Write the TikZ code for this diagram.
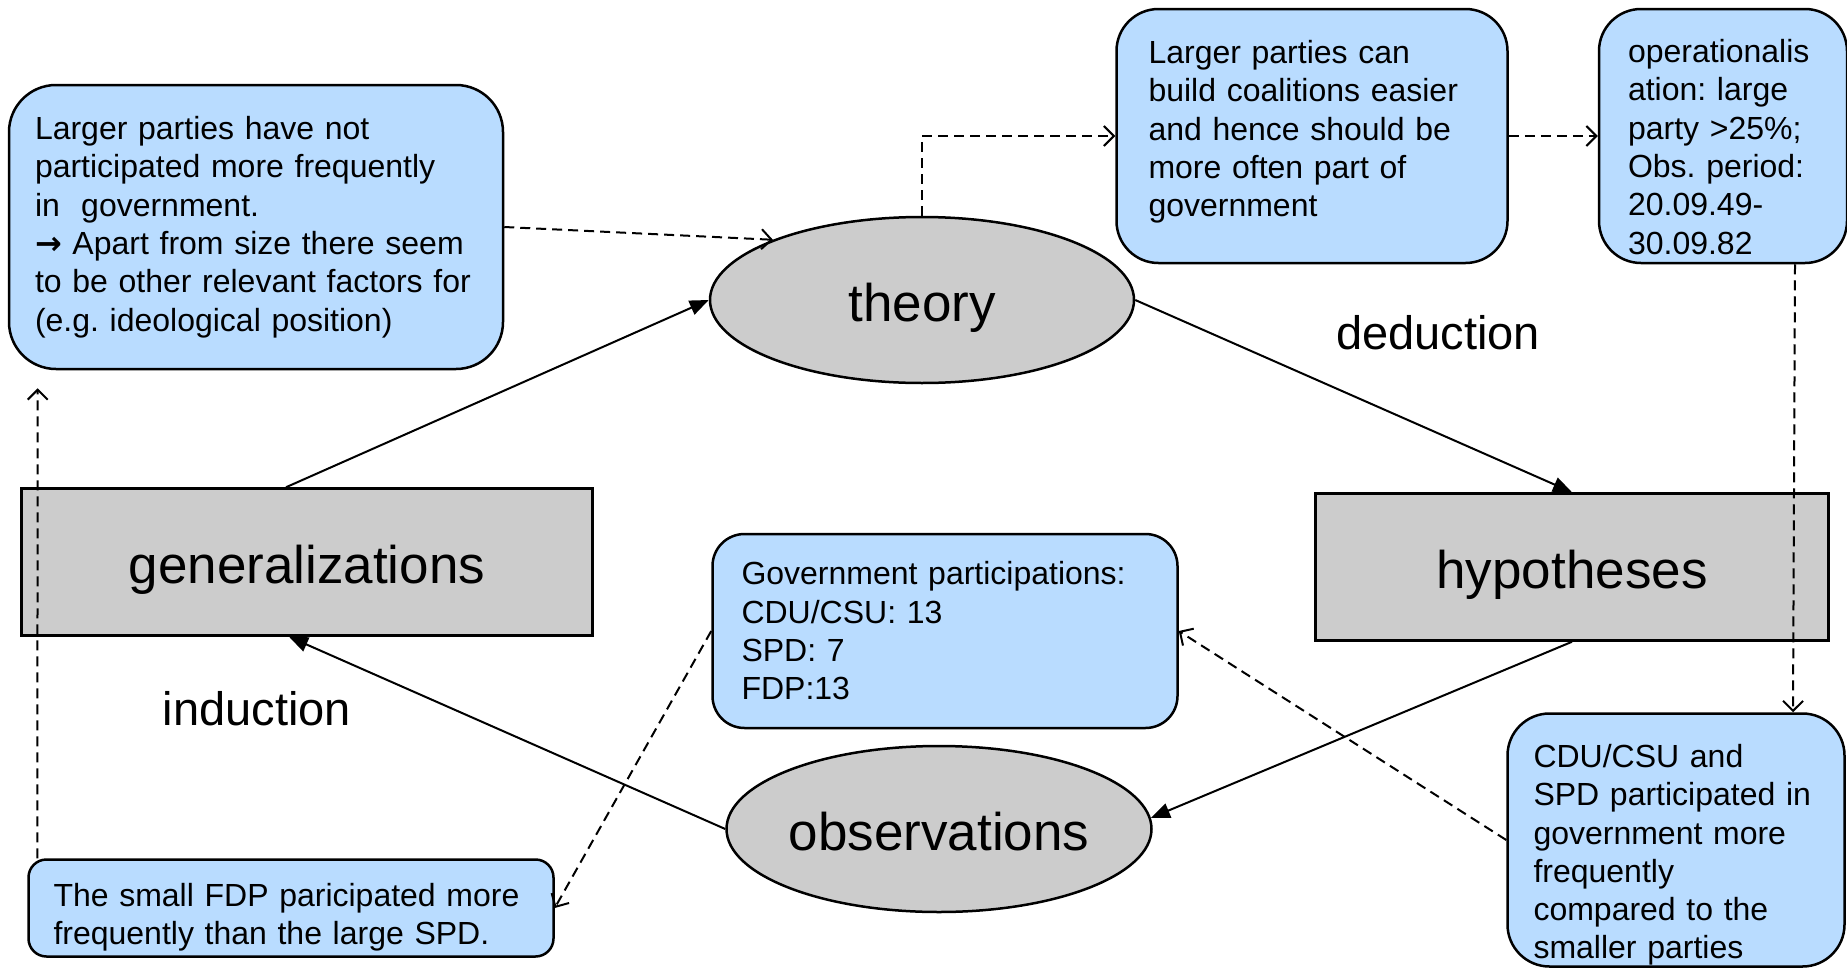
\documentclass[tikz,border=0pt]{standalone}
\usepackage{fontspec}
\setmainfont{Liberation Sans}
\newfontfamily\arrowfont{DejaVu Sans}
\usetikzlibrary{positioning, shapes.geometric, arrows.meta}
\definecolor{noteblue}{RGB}{185,220,255}
\definecolor{maingray}{RGB}{204,204,204}
\frenchspacing
\newcommand{\toppad}[1]{\rule{0pt}{#1}}
\newcommand{\botpad}[1]{\rule[-#1]{0pt}{#1}}
\tikzset{main node/.style={draw, fill=maingray, line width=2.5pt, inner sep=0pt, text height=43pt, text depth=0pt, font=\fontsize{53}{60}\selectfont},
  oval node/.style={main node, ellipse, minimum width=424pt, minimum height=166pt},
  rect node/.style={main node, rectangle, minimum height=147pt},
  note node/.style={draw, fill=noteblue, line width=2.5pt, rounded corners=42pt, align=left, inner ysep=0pt, font=\fontsize{32}{38.3}\selectfont},
  flow/.style={line width=2pt, -{Triangle[length=19pt,width=15pt]}},
  hint/.style={line width=2pt, dash pattern=on 10pt off 6pt, -{Straight Barb[length=10pt,width=20pt]}},
  step label/.style={font=\fontsize{47}{56}\selectfont},}

\begin{document}
\begin{tikzpicture}[x=1pt, y=-1pt]
        \useasboundingbox (0,0) rectangle (1847,969);
        % Nodes
        \node[oval node] (theory) at (922,300) {theory};
        \node[oval node] (obs) at (939,829) {observations};
        \node[rect node, minimum width=571pt] (gen) at (307,562) {generalizations};
        \node[rect node, minimum width=513pt] (hyp) at (1572,567) {hypotheses};
        \node[step label] (ded) at (1438,333) {deduction};
        \node[step label] (ind) at (257,709) {induction};
        % Notes
        \node[note node, minimum width=494pt, minimum height=284pt, text width=442pt, inner xsep=26pt, rounded corners=47pt] (finding) at (256,227) {Larger parties have not\\ participated more frequently\\ in\ \ government.\\ {\arrowfont\bfseries →} Apart from size there seem\\ to be other relevant factors for\\ (e.g. ideological position)\par\vspace*{8pt}};
        \node[note node, minimum width=391pt, minimum height=254pt, text width=327pt, inner xsep=32pt] (reason) at (1312,136) {Larger parties can\\ build coalitions easier\\ and hence should be\\ more often part of\\ government\botpad{15pt}};
        \node[note node, minimum width=248pt, minimum height=254pt, text width=190pt, inner xsep=29pt, right=89pt of reason] (opdef) {\toppad{45pt}operationalis\\ ation: large\\ party >25\%;\\ Obs. period:\\ 20.09.49-\\ 30.09.82};
        \node[note node, minimum width=465pt, minimum height=194pt, text width=407pt, inner xsep=29pt, rounded corners=32pt] (counts) at (945,631) {Government participations:\\ CDU/CSU: 13\\ SPD: 7\\ FDP:13};
        \node[note node, minimum width=525pt, minimum height=97pt, text width=475pt, inner xsep=25pt, rounded corners=18pt] (fdp) at (291,908) {\toppad{42pt}The small FDP paricipated more\\ frequently than the large SPD.};
        \node[note node, minimum width=337pt, minimum height=253pt, text width=285pt, inner xsep=26pt] (expect) at (1676,840) {\toppad{53pt}CDU/CSU and\\ SPD participated in\\ government more\\ frequently\\ compared to the\\ smaller parties};
        % Paths
        \path
        ([xshift=-21pt]gen.north) edge[flow] (theory.west)
        (theory.east) edge[flow] (hyp.north)
        (hyp.south) edge[flow] (obs.3)
        (obs.west) edge[flow] ([xshift=-18pt]gen.south);
        \path
        (finding.east) edge[hint] (theory.158)
        (reason.east) edge[hint] (opdef.west)
        ([xshift=72pt]opdef.south) edge[hint] ([xshift=117pt]expect.north)
        (expect.west) edge[hint] (counts.east)
        (counts.west) edge[hint] (fdp.east)
        ([xshift=10pt]fdp.north west) edge[hint, shorten >=18pt] ([xshift=30pt]finding.south west);
        \draw[hint] (theory.north) |- (reason.west);
\end{tikzpicture}
\end{document}
